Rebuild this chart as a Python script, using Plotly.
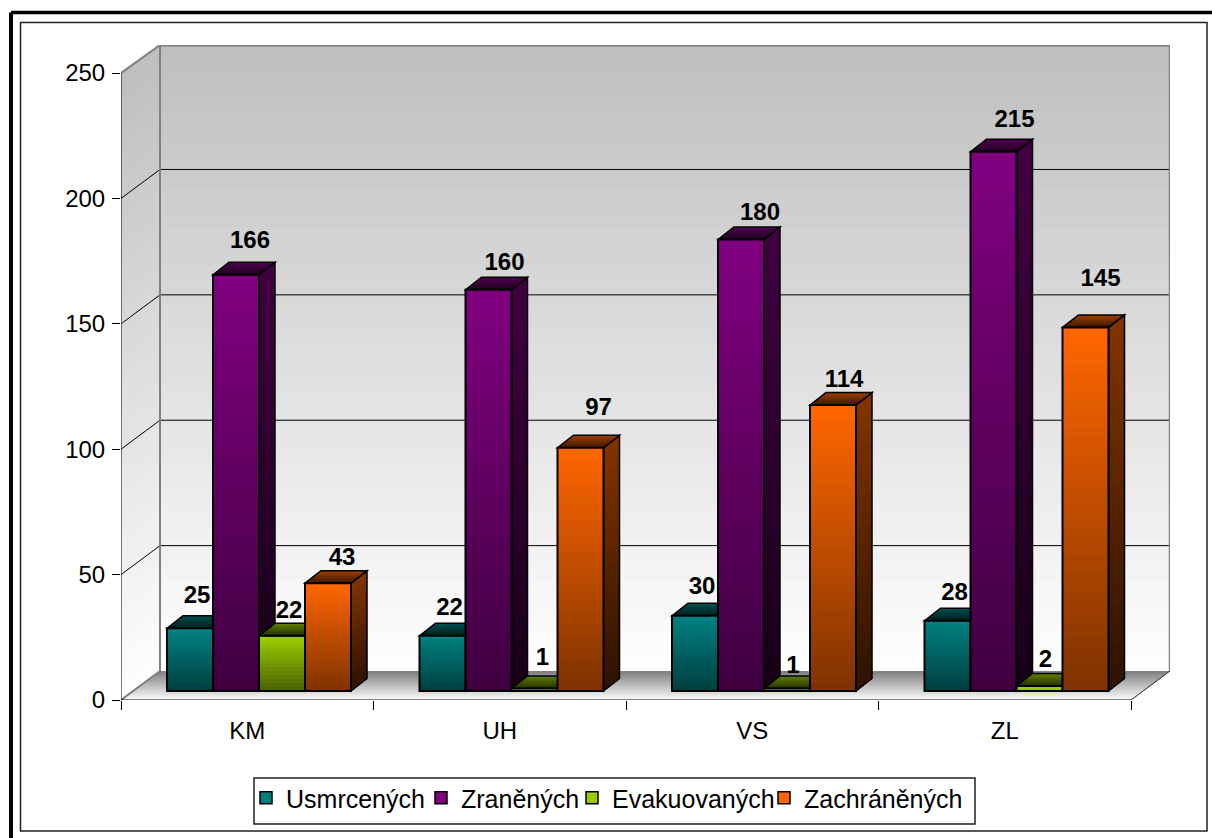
import plotly.graph_objects as go

# ---- data ----
categories = ["KM", "UH", "VS", "ZL"]
series_names = ["Usmrcených", "Zraněných", "Evakuovaných", "Zachráněných"]
usmrcenych = [25, 22, 30, 28]
zranenych = [166, 160, 180, 215]
evakuovanych = [22, 1, 1, 2]
zachranenych = [43, 97, 114, 145]
y_ticks = [0, 50, 100, 150, 200, 250]
series_values = [usmrcenych, zranenych, evakuovanych, zachranenych]
series_colors = [(0, 128, 128), (128, 0, 128), (153, 204, 0), (255, 102, 0)]

# label nudges in pixels (per series, per category): right of bar centre, above bar top
label_dx = [[7, 7, 7, 7], [14, 16, 19, 21], [7, 8, 6, 6], [14, 18, 11, 15]]
label_dy = [[31, 27, 28, 27], [33, 26, 26, 31], [24, 29, 21, 25], [24, 39, 24, 47]]

# ---- pixel geometry of the pseudo-3D frame ----
L, R, T, B = 121, 1170, 45, 700
CAT_PX = 252.5
UNIT_PX = 2.5077
xu = 1 / CAT_PX
yu = 1 / UNIT_PX
x_max = (R - L) * xu
y_max = (B - T) * yu
wall_dx, wall_dy = 39 * xu, 29 * yu
bar_w = 46 * xu
bar_lead = 46 * xu
bar_base = 9 * yu
depth_x, depth_y = 16 * xu, 12.5 * yu
INK = "#000000"
EDGE = "#808080"
legend_left_px = [246, 421, 572, 764]
legend_top_px = 775


def rgb(c, f=1.0):
    return "rgb(%d,%d,%d)" % tuple(round(v * f) for v in c)


def mix(a, b, t):
    return tuple(a[i] + (b[i] - a[i]) * t for i in range(3))


def poly(points, fill=None, line=None, width=0):
    path = "M " + " L ".join(f"{x:.4f},{y:.4f}" for x, y in points) + " Z"
    s = dict(type="path", path=path, xref="x", yref="y", layer="below",
             line=dict(width=width, color=line or "rgba(0,0,0,0)"))
    s["fillcolor"] = fill if fill else "rgba(0,0,0,0)"
    return s


def seg(x0, y0, x1, y1, color=INK, width=1, ref="data"):
    xr, yr = ("x", "y") if ref == "data" else ("paper", "paper")
    return dict(type="line", x0=x0, y0=y0, x1=x1, y1=y1, xref=xr, yref=yr,
                layer="below", line=dict(color=color, width=width))


def px(xp, yp):
    return (xp - L) / (R - L), (B - yp) / (B - T)


shapes = []

# back wall and left wall gradient
wall_top, wall_low = (191, 191, 191), (255, 255, 255)
WALL_STEPS = 48
for i in range(WALL_STEPS):
    t = i / WALL_STEPS
    yi = y_max - t * (y_max - wall_dy)
    col = rgb(mix(wall_top, wall_low, t))
    shapes.append(poly([(wall_dx, yi), (x_max, yi), (x_max, wall_dy), (wall_dx, wall_dy)], col))
    shapes.append(poly([(0, yi - wall_dy), (wall_dx, yi), (wall_dx, wall_dy), (0, 0)], col))

# floor gradient
FLOOR_STEPS = 24
for i in range(FLOOR_STEPS):
    t = i / FLOOR_STEPS
    a = wall_dx * (1 - t)
    b = wall_dy * (1 - t)
    col = rgb(mix((128, 128, 128), (255, 255, 255), t))
    shapes.append(poly([(a, b), (4 + a, b), (4, 0), (0, 0)], col))

# gridlines on both walls
for v in y_ticks[1:-1]:
    yb = v + wall_dy
    shapes.append(seg(wall_dx, yb, x_max, yb))
    shapes.append(seg(0, v, wall_dx, yb))

# wall edges
shapes += [
    seg(wall_dx, wall_dy, wall_dx, y_max, EDGE, 2),
    seg(x_max - 0.001, wall_dy, x_max - 0.001, y_max, EDGE, 2),
    seg(wall_dx, y_max - 0.2, x_max, y_max - 0.2, EDGE, 2),
    seg(0, 250, wall_dx, y_max, EDGE, 2),
    seg(0, 0, wall_dx, wall_dy, EDGE, 2),
    seg(4, 0, x_max, wall_dy, "#303030", 1),
    seg(0, 0, 0, 250, INK, 1),
    seg(0, 0, 4, 0, INK, 1),
]

# side and top faces, painted left to right
for k, vals in enumerate(series_values):
    c = series_colors[k]
    for i, v in enumerate(vals):
        x0 = i + bar_lead + k * bar_w
        x1 = x0 + bar_w
        top = bar_base + v
        n = max(1, min(18, round(v * UNIT_PX / 8)))
        for j in range(n):
            t = j / n
            y = top - t * v
            f = 0.5 + (0.17 - 0.5) * t
            shapes.append(poly([(x1, y), (x1 + depth_x, y + depth_y),
                                (x1 + depth_x, bar_base + depth_y), (x1, bar_base)], rgb(c, f)))
        shapes.append(poly([(x1, top), (x1 + depth_x, top + depth_y),
                            (x1 + depth_x, bar_base + depth_y), (x1, bar_base)], None, INK, 1.5))
        for j in range(7):
            t = j / 7
            f = 0.6 * (1 - t) + 0.2 * t
            shapes.append(poly([(x0 + depth_x * (1 - t), top + depth_y * (1 - t)),
                                (x1 + depth_x * (1 - t), top + depth_y * (1 - t)),
                                (x1, top), (x0, top)], rgb(c, f)))
        shapes.append(poly([(x0, top), (x0 + depth_x, top + depth_y),
                            (x1 + depth_x, top + depth_y), (x1, top)], None, INK, 1.5))

# chart frame
fx0, fy0 = px(11, 12.5)
shapes.append(seg(fx0, fy0, px(1212, 0)[0], fy0, INK, 3.5, "paper"))
shapes.append(seg(fx0, fy0, fx0, px(0, 838)[1], INK, 4, "paper"))
ix0, iy0 = px(20.5, 22.5)
ix1, iy1 = px(1207, 831)
shapes.append(dict(type="rect", xref="paper", yref="paper", x0=ix0, y0=iy1, x1=ix1, y1=iy0,
                   layer="below", line=dict(color="#202020", width=1.5)))
# legend frame
lx0, ly0 = px(254, 778)
lx1, ly1 = px(975, 824)
shapes.append(dict(type="rect", xref="paper", yref="paper", x0=lx0, y0=ly1, x1=lx1, y1=ly0,
                   layer="below", line=dict(color="#202020", width=1.5), fillcolor="white"))

fig = go.Figure()
legend_ids = ["legend", "legend2", "legend3", "legend4"]

# front faces: overlapping slices for the vertical gradient, then an outline
for k, vals in enumerate(series_values):
    c = series_colors[k]
    xs, ws, bases, hs, cols, lws = [], [], [], [], [], []
    for i, v in enumerate(vals):
        xc = i + bar_lead + (k + 0.5) * bar_w
        n = max(1, min(40, round(v * UNIT_PX / 4)))
        for j in range(n):
            xs.append(xc)
            ws.append(bar_w)
            bases.append(bar_base)
            hs.append(v * (1 - j / n))
            cols.append(rgb(c, 1 - 0.5 * j / max(n - 1, 1)))
            lws.append(1.5 if (i == 0 and j == 0) else 0)
    fig.add_trace(go.Bar(x=xs, y=hs, base=bases, width=ws, name=series_names[k],
                         legend=legend_ids[k],
                         marker=dict(color=cols, line=dict(color=INK, width=lws)),
                         hoverinfo="skip"))
    fig.add_trace(go.Bar(x=[i + bar_lead + (k + 0.5) * bar_w for i in range(4)], y=vals,
                         base=[bar_base] * 4, width=[bar_w] * 4, showlegend=False,
                         marker=dict(color="rgba(0,0,0,0)", line=dict(color=INK, width=2)),
                         hoverinfo="skip"))

# data labels
for k, vals in enumerate(series_values):
    fig.add_trace(go.Scatter(
        x=[i + bar_lead + (k + 0.5) * bar_w + label_dx[k][i] * xu for i in range(4)],
        y=[bar_base + v + label_dy[k][i] * yu for i, v in enumerate(vals)],
        text=[str(v) for v in vals], mode="text", textposition="middle center",
        textfont=dict(family="Liberation Sans", size=24, color=INK, weight="bold"),
        showlegend=False, cliponaxis=False, hoverinfo="skip"))

legend_style = {}
for k, lid in enumerate(legend_ids):
    legend_style[lid] = dict(orientation="h", x=px(legend_left_px[k], 0)[0], y=px(0, legend_top_px)[1],
                             xanchor="left", yanchor="top", borderwidth=0,
                             bgcolor="rgba(0,0,0,0)", font=dict(size=25),
                             itemclick=False, itemdoubleclick=False)

fig.update_layout(
    width=1212, height=838, autosize=False,
    margin=dict(l=L, r=1212 - R, t=T, b=838 - B, pad=0),
    paper_bgcolor="white", plot_bgcolor="rgba(0,0,0,0)",
    barmode="overlay", shapes=shapes,
    font=dict(family="Liberation Sans", size=24, color=INK),
    xaxis=dict(range=[0, x_max], tickvals=[i + 0.5 for i in range(4)], ticktext=categories,
               ticks="", showgrid=False, zeroline=False, showline=False, fixedrange=True,
               ticklabelstandoff=14, tickfont=dict(size=24),
               minor=dict(tickvals=[0, 1, 2, 3, 4], ticks="outside", ticklen=9, tickwidth=1,
                          tickcolor=INK, showgrid=False)),
    yaxis=dict(range=[0, y_max], tickvals=y_ticks, ticks="outside", ticklen=8, tickwidth=1,
               tickcolor=INK, showgrid=False, zeroline=False, showline=False, fixedrange=True,
               ticklabelstandoff=2, tickfont=dict(size=24)),
    **legend_style,
)

fig.write_html("out.html", post_script="document.body.style.margin='0';document.body.style.overflow='hidden';",
               config=dict(displayModeBar=False))
